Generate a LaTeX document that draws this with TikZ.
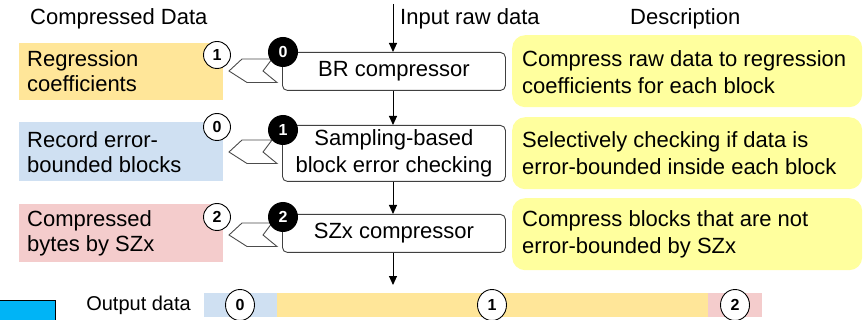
\documentclass[tikz,border=0pt]{standalone}
\usepackage{fontspec}
\setmainfont{Liberation Sans}
\usetikzlibrary{arrows.meta,shapes.geometric}
\definecolor{corange}{HTML}{FFE699}
\definecolor{cblue}{HTML}{CFE0F2}
\definecolor{cpink}{HTML}{F4CCCC}
\definecolor{cyellow}{HTML}{FFFF9E}
\definecolor{ccyan}{HTML}{00B4F6}
\begin{document}
\begin{tikzpicture}[x=1pt,y=-1pt,
  every node/.style={inner sep=0pt},
  big/.style={font=\fontsize{22}{25}\selectfont},
  desc/.style={font=\fontsize{22}{27}\selectfont},
  head/.style={font=\fontsize{22}{24}\selectfont},
  databox/.style={minimum width=204pt,anchor=north west},
  procbox/.style={draw=black!75,line width=0.9pt,rounded corners=5pt,fill=white,minimum width=223pt,anchor=north west,big,align=center},
  descbox/.style={fill=cyellow,rounded corners=13pt,minimum width=350pt,minimum height=72pt,anchor=north west},
  blackc/.style={circle,fill=black,text=white,minimum size=30pt,font=\fontsize{16}{16}\selectfont\bfseries},
  whitec/.style={circle,draw=black,line width=0.9pt,fill=white,minimum size=27pt,font=\fontsize{16}{16}\selectfont\bfseries},
  outc/.style={ellipse,draw=black,line width=0.9pt,fill=white,minimum width=29pt,minimum height=31pt,font=\fontsize{16}{16}\selectfont\bfseries},
  flow/.style={-{Triangle[length=9pt,width=8pt]},line width=1pt},
  chev/.style={draw=black!70,line width=0.9pt,fill=white}
]
\useasboundingbox (0,0) rectangle (864,320);

% headers
\node[head,anchor=west] (hcd) at (30,19) {Compressed Data};
\node[head,anchor=west] (hin) at (400,19) {Input raw data};
\node[head,anchor=west] (hde) at (630,19) {Description};

% left data boxes
\node[databox,fill=corange,minimum height=57pt] (d1) at (19,43) {};
\node[big,anchor=west,align=left] (d1t) at (27,71) {Regression\\coefficients};
\node[databox,fill=cblue,minimum height=59pt] (d2) at (19,122) {};
\node[big,anchor=west,align=left] (d2t) at (27,152) {Record error-\\bounded blocks};
\node[databox,fill=cpink,minimum height=58pt] (d3) at (19,204) {};
\node[big,anchor=west,align=left] (d3t) at (27,233) {Compressed\\bytes by SZx};

% process boxes
\node[procbox,minimum height=38pt] (p1) at (282,52) {BR compressor};
\node[procbox,minimum height=56pt,font=\fontsize{22}{27}\selectfont] (p2) at (282,125) {Sampling-based\\block error checking};
\node[procbox,minimum height=38pt] (p3) at (282,214) {SZx compressor};

% description boxes
\node[descbox] (e1) at (512,35) {};
\node[desc,anchor=west,align=left] (e1t) at (522,72) {Compress raw data to regression\\coefficients for each block};
\node[descbox] (e2) at (512,117) {};
\node[desc,anchor=west,align=left] (e2t) at (522,153) {Selectively checking if data is\\error-bounded inside each block};
\node[descbox] (e3) at (512,198) {};
\node[desc,anchor=west,align=left] (e3t) at (522,234) {Compress blocks that are not\\error-bounded by SZx};

% chevrons
\foreach \y in {71,152,235}{
  \draw[chev] (272,\y-12) -- (242,\y-12) -- (229,\y) -- (247,\y+11.5) -- (277,\y+11.5) -- (263,\y) -- cycle;
}

% circles
\node[blackc] (b1) at (283,52) {0};
\node[blackc] (b2) at (283,130) {1};
\node[blackc] (b3) at (283,217) {2};
\node[whitec] (w1) at (217,55) {1};
\node[whitec] (w2) at (217,127) {0};
\node[whitec] (w3) at (217,217) {2};

% flow arrows
\coordinate (top) at (393,4);
\draw[flow] (top) -- (p1.north -| top);
\draw[flow] (p1.south -| top) -- (p2.north -| top);
\draw[flow] (p2.south -| top) -- (p3.north -| top);
\coordinate (outend) at (393,285);
\draw[flow] (p3.south -| top) -- (outend);

% output bar
\fill[cblue] (204,293) rectangle (277,317);
\fill[corange] (277,293) rectangle (708,317);
\fill[cpink] (708,293) rectangle (762,317);
\node[font=\fontsize{20}{20}\selectfont,anchor=east] (outl) at (191,305) {Output data};
\node[outc] (o0) at (240,305) {0};
\node[outc] (o1) at (492,305) {1};
\node[outc] (o2) at (735,305) {2};

% cyan box bottom-left
\draw[fill=ccyan,line width=1pt] (-2,300) rectangle (55,324);
\end{tikzpicture}
\end{document}
